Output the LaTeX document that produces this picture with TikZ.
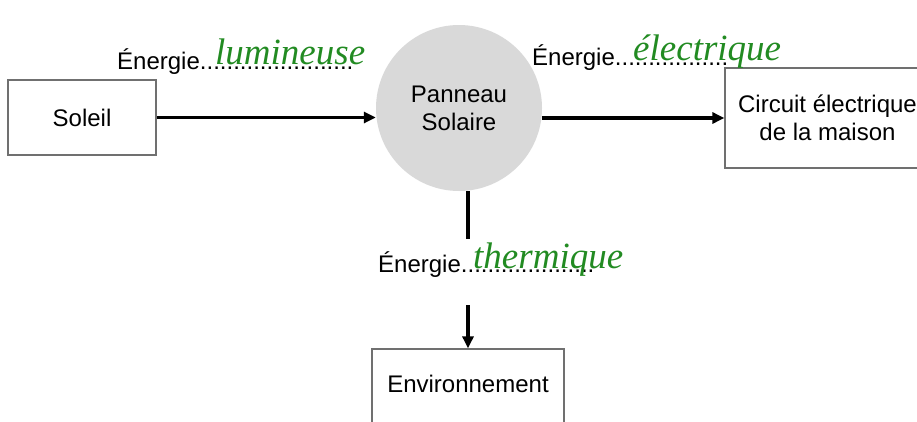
\documentclass[tikz,border=0pt]{standalone}
\usepackage{fontspec}
\setmainfont{Liberation Sans}
\newfontfamily\handfont{Liberation Serif}
\usetikzlibrary{arrows.meta,calc,positioning}

\definecolor{panelgray}{RGB}{217,217,217}
\definecolor{boxline}{RGB}{112,112,112}
\definecolor{inkgreen}{RGB}{34,139,34}

\tikzset{
  txt/.style={font=\fontsize{24}{28}\selectfont},
  block/.style={txt, draw=boxline, line width=1.3pt, align=center, inner sep=0pt},
  flow/.style={line width=3.2pt, -{Triangle[length=12pt,width=11pt]}},
  energy/.style={txt, anchor=base west, inner sep=0pt},
  hand/.style={anchor=base west, inner sep=0pt, text=inkgreen,
    font=\handfont\itshape\fontsize{37}{40}\selectfont},
}

\begin{document}
\begin{tikzpicture}[x=1pt, y=-1pt]

\useasboundingbox (0,0) rectangle (917,421);

\coordinate (sun) at (82,117.5);
\coordinate (mid) at (459,108);
\coordinate (home) at (827.5,118);
\coordinate (env) at (468,399);

\node[block, minimum width=148pt, minimum height=75pt] (soleil) at (sun) {Soleil};
\node[circle, fill=panelgray, minimum size=166pt, inner sep=0pt, txt, align=center] (panel) at (mid) {Panneau\\Solaire};
\node[block, minimum width=205pt, minimum height=100pt] (circuit) at (home) {Circuit électrique\\de la maison};
\node[block, minimum width=192pt, minimum height=100pt, text height=17pt, text depth=31pt] (envir) at (env) {Environnement};

\draw [flow] (soleil.east) to (soleil.east -| panel.west);
\draw [flow] (circuit.west -| panel.east) to (circuit.west);

% thermal path, broken around the label
\coordinate (gaptop) at ($(envir.north) + (0,-109)$);
\coordinate (gapbot) at ($(envir.north) + (0,-43)$);
\draw [line width=3.2pt] (envir.north |- panel.south) to (gaptop);
\draw [flow] (gapbot) to (envir.north);

\node[energy] (elum) at (117,69) {Énergie.......................};
\node[energy] (eelec) at (532,65) {Énergie.................};
\node[energy] (etherm) at (378,272) {Énergie....................};

\node[hand] (lum) at (215,64) {lumineuse};
\node[hand] (elec) at (633,60) {électrique};
\node[hand] (therm) at (473,268) {thermique};

\end{tikzpicture}
\end{document}
